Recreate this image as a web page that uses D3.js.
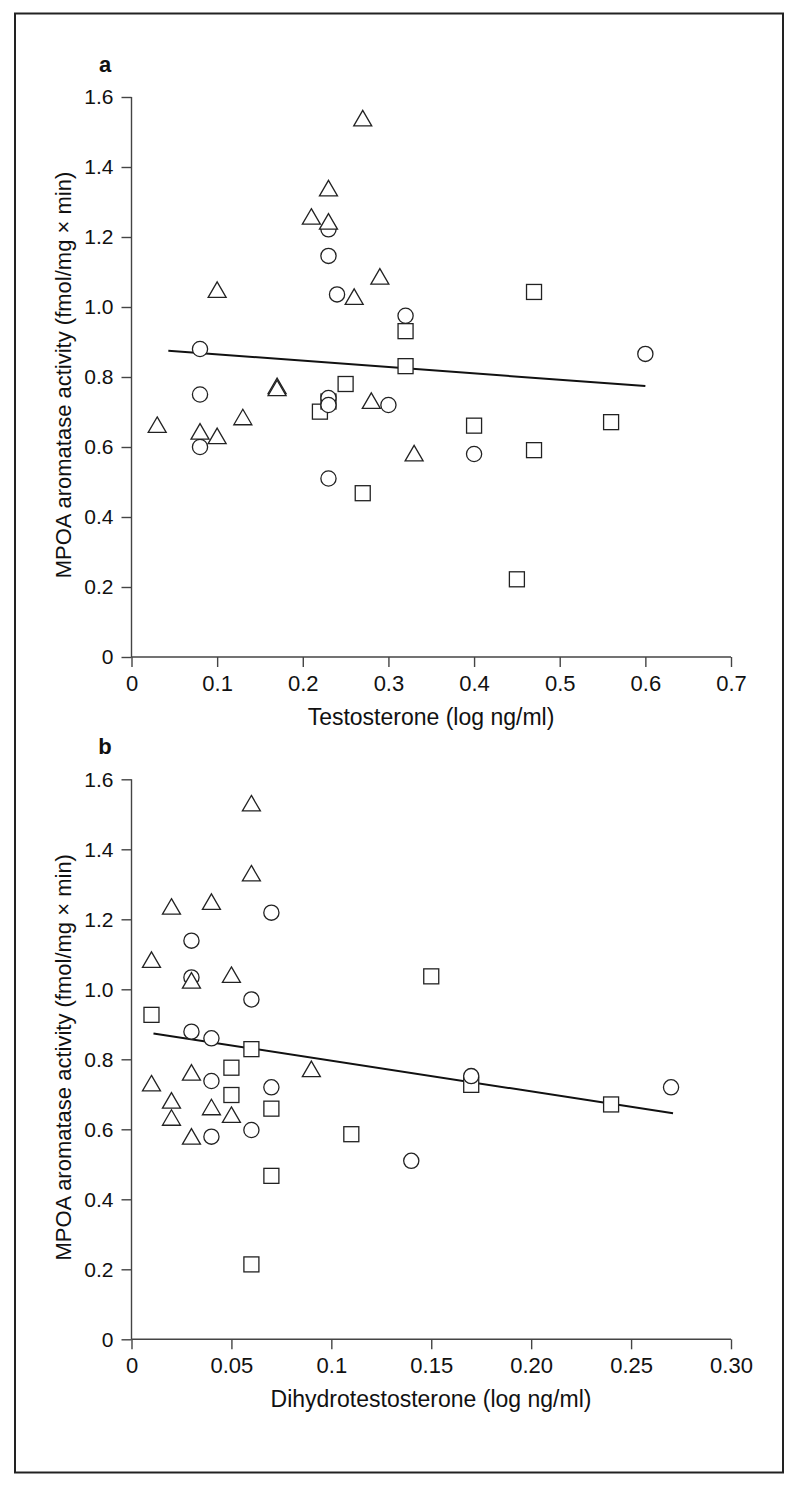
<!DOCTYPE html>
<html><head><meta charset="utf-8">
<script src="https://cdn.jsdelivr.net/npm/d3@7"></script>
<style>
html,body{margin:0;padding:0;background:#fff;}
svg{display:block;}
</style></head>
<body>
<script>
// ---------- DATA ----------
// Panel a: Testosterone (log ng/ml) vs MPOA aromatase activity
const aTriangles = [[0.03,0.663],[0.08,0.644],[0.10,0.631],[0.10,1.049],[0.13,0.685],[0.17,0.774],[0.17,0.768],
  [0.21,1.258],[0.23,1.339],[0.23,1.244],[0.27,1.539],[0.26,1.029],[0.29,1.087],[0.28,0.732],[0.33,0.582]];
const aCircles = [[0.08,0.88],[0.08,0.75],[0.08,0.60],[0.23,1.222],[0.23,1.146],[0.24,1.036],[0.23,0.74],
  [0.23,0.72],[0.30,0.72],[0.23,0.51],[0.32,0.975],[0.40,0.58],[0.60,0.866]];
const aSquares = [[0.22,0.701],[0.25,0.78],[0.23,0.73],[0.32,0.931],[0.32,0.831],[0.27,0.468],[0.40,0.661],
  [0.47,1.043],[0.47,0.591],[0.56,0.671],[0.45,0.222]];
const aLine = [[0.043,0.875],[0.60,0.774]];
const aXTicks = [0,0.1,0.2,0.3,0.4,0.5,0.6,0.7];
const aXTickLabels = ["0","0.1","0.2","0.3","0.4","0.5","0.6","0.7"];

// Panel b: Dihydrotestosterone (log ng/ml) vs MPOA aromatase activity
const bTriangles = [[0.06,1.531],[0.06,1.331],[0.02,1.236],[0.04,1.25],[0.01,1.084],[0.03,1.025],[0.05,1.041],
  [0.03,0.762],[0.01,0.731],[0.02,0.682],[0.04,0.663],[0.02,0.633],[0.05,0.641],[0.03,0.579],[0.09,0.772]];
const bCircles = [[0.07,1.219],[0.03,1.139],[0.03,1.034],[0.06,0.971],[0.03,0.879],[0.04,0.86],[0.04,0.738],
  [0.07,0.72],[0.06,0.598],[0.04,0.579],[0.17,0.752],[0.27,0.72],[0.14,0.51]];
const bSquares = [[0.01,0.927],[0.06,0.829],[0.05,0.776],[0.05,0.698],[0.07,0.659],[0.07,0.467],[0.06,0.214],
  [0.15,1.037],[0.17,0.727],[0.24,0.671],[0.11,0.586]];
const bLine = [[0.011,0.874],[0.271,0.646]];
const bXTicks = [0,0.05,0.1,0.15,0.2,0.25,0.3];
const bXTickLabels = ["0","0.05","0.1","0.15","0.20","0.25","0.30"];

const yTicks = [0,0.2,0.4,0.6,0.8,1.0,1.2,1.4,1.6];
const yTickLabels = ["0","0.2","0.4","0.6","0.8","1.0","1.2","1.4","1.6"];
const yTitle = "MPOA aromatase activity (fmol/mg \u00d7 min)";

// ---------- DRAW ----------
const W = 800, H = 1488;
const svg = d3.select("body").append("svg").attr("width", W).attr("height", H);
svg.append("rect").attr("x", 15).attr("y", 13.5).attr("width", 768).attr("height", 1459)
  .attr("fill", "none").attr("stroke", "#222").attr("stroke-width", 2);

const sans = "'Liberation Sans', Arial, sans-serif";
const narrow = "'Liberation Sans Narrow', 'Liberation Sans', Arial, sans-serif";

function panel(cfg) {
  const x = d3.scaleLinear().domain(cfg.xDomain).range([131.5, 731]);
  const y = d3.scaleLinear().domain([0, 1.6]).range([cfg.y0, cfg.y0 - 560]);
  const g = svg.append("g");

  // y axis
  const ya = g.append("g").attr("transform", "translate(131.5,0)")
    .call(d3.axisLeft(y).tickValues(yTicks).tickFormat((d, i) => yTickLabels[i]).tickSize(10).tickPadding(8));
  ya.select(".domain").attr("stroke", "#444").attr("stroke-width", 1.4).attr("d", `M-0,${y(1.6)}V${y(0)}`);
  ya.selectAll(".tick line").attr("stroke", "#444").attr("stroke-width", 1.4);
  ya.selectAll(".tick text").attr("font-family", sans).attr("font-size", 21).attr("fill", "#111");

  // x axis
  const xa = g.append("g").attr("transform", `translate(0,${cfg.y0})`)
    .call(d3.axisBottom(x).tickValues(cfg.xTicks).tickFormat((d, i) => cfg.xLabels[i]).tickSize(10).tickPadding(8));
  xa.select(".domain").attr("stroke", "#444").attr("stroke-width", 1.4).attr("d", `M${x(cfg.xDomain[0])},0H${x(cfg.xDomain[1])}`);
  xa.selectAll(".tick line").attr("stroke", "#444").attr("stroke-width", 1.4);
  xa.selectAll(".tick text").attr("font-family", narrow).attr("font-size", 22).attr("fill", "#111");

  // titles
  g.append("text").attr("x", 431).attr("y", cfg.y0 + 68).attr("text-anchor", "middle")
    .attr("font-family", narrow).attr("font-size", 23).attr("fill", "#111").text(cfg.xTitle);
  g.append("text").attr("transform", `translate(71,${cfg.y0 - 282}) rotate(-90)`).attr("text-anchor", "middle")
    .attr("font-family", sans).attr("font-size", 22).attr("fill", "#111").text(yTitle);
  g.append("text").attr("x", 105).attr("y", cfg.y0 - 585).attr("text-anchor", "middle")
    .attr("font-family", sans).attr("font-weight", "bold").attr("font-size", 22).attr("fill", "#111").text(cfg.label);

  // regression line
  g.append("path").datum(cfg.line)
    .attr("d", d3.line().x(d => x(d[0])).y(d => y(d[1])))
    .attr("fill", "none").attr("stroke", "#111").attr("stroke-width", 2);

  const mk = g.append("g").attr("fill", "#fff").attr("stroke", "#222").attr("stroke-width", 1.3);
  mk.selectAll(".sq").data(cfg.squares).join("rect")
    .attr("x", d => x(d[0]) - 7.5).attr("y", d => y(d[1]) - 7.5).attr("width", 15).attr("height", 15);
  mk.selectAll(".ci").data(cfg.circles).join("circle")
    .attr("cx", d => x(d[0])).attr("cy", d => y(d[1])).attr("r", 7.6);
  mk.selectAll(".tr").data(cfg.triangles).join("path")
    .attr("d", d => { const cx = x(d[0]), cy = y(d[1]);
      return `M${cx},${cy - 8}L${cx + 9},${cy + 7.5}L${cx - 9},${cy + 7.5}Z`; });
}

panel({ y0: 657, xDomain: [0, 0.7], xTicks: aXTicks, xLabels: aXTickLabels,
  xTitle: "Testosterone (log ng/ml)", label: "a",
  triangles: aTriangles, circles: aCircles, squares: aSquares, line: aLine });
panel({ y0: 1339.3, xDomain: [0, 0.3], xTicks: bXTicks, xLabels: bXTickLabels,
  xTitle: "Dihydrotestosterone (log ng/ml)", label: "b",
  triangles: bTriangles, circles: bCircles, squares: bSquares, line: bLine });
</script>
</body></html>
